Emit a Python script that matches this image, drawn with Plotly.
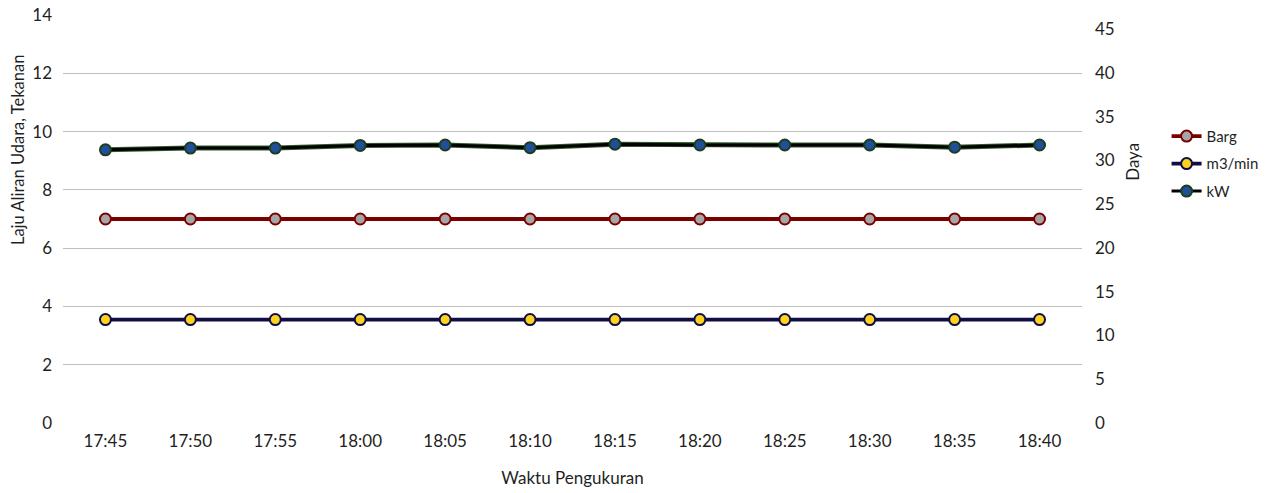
import plotly.graph_objects as go

# Measurement times (5-minute intervals)
waktu = ["17:45", "17:50", "17:55", "18:00", "18:05", "18:10",
         "18:15", "18:20", "18:25", "18:30", "18:35", "18:40"]

# Pressure (Barg), air flow (m3/min), and power (kW)
barg = [7, 7, 7, 7, 7, 7, 7, 7, 7, 7, 7, 7]
m3_min = [3.55, 3.55, 3.55, 3.55, 3.55, 3.55, 3.55, 3.55, 3.55, 3.55, 3.55, 3.55]
kw = [31.2, 31.4, 31.4, 31.7, 31.75, 31.45, 31.85, 31.75, 31.75, 31.75, 31.5, 31.75]

y_ticks = [0, 2, 4, 6, 8, 10, 12, 14]
y2_ticks = [0, 5, 10, 15, 20, 25, 30, 35, 40, 45]

FONT = "Lato"
TXT = "#1f1f1f"

fig = go.Figure()

fig.add_trace(go.Scatter(
    x=waktu, y=barg, name="Barg", mode="lines+markers", legendgroup="a",
    line=dict(color="#7a0000", width=3.8),
    marker=dict(size=11, color="#a6a6a6", line=dict(color="#7a0000", width=2)),
))
fig.add_trace(go.Scatter(
    x=waktu, y=m3_min, name="m3/min", mode="lines+markers", legendgroup="b",
    line=dict(color="#0f0f45", width=3.8),
    marker=dict(size=11, color="#ffd21f", line=dict(color="#0f0f45", width=2)),
))
# green halo under the power line
fig.add_trace(go.Scatter(
    x=waktu, y=kw, yaxis="y2", mode="lines", showlegend=False, hoverinfo="skip",
    line=dict(color="#2f5a2a", width=5),
))
fig.add_trace(go.Scatter(
    x=waktu, y=kw, name="kW", yaxis="y2", mode="lines+markers", legendgroup="c",
    line=dict(color="#000000", width=3),
    marker=dict(size=11, color="#1f4e9a", line=dict(color="#1e3d1e", width=2)),
))

fig.update_layout(
    width=1280, height=493,
    margin=dict(l=63, r=198, t=15, b=70),
    paper_bgcolor="white", plot_bgcolor="white",
    font=dict(family=FONT, size=17, color=TXT),
    xaxis=dict(
        type="category", range=[-0.5, 11.5], automargin=False,
        showgrid=False, showline=False, zeroline=False,
        ticks="", ticklabelstandoff=6,
        title=dict(text="Waktu Pengukuran", font=dict(size=17, color=TXT), standoff=22),
    ),
    yaxis=dict(
        range=[0, 14], tickvals=y_ticks, automargin=False,
        showgrid=True, gridcolor="#bfbfbf", gridwidth=1,
        zeroline=False, showline=False, ticks="", ticklabelstandoff=10,
    ),
    yaxis2=dict(
        overlaying="y", side="right", automargin=False,
        range=[0, 46.6], tickvals=y2_ticks,
        showgrid=False, zeroline=False, showline=False, ticks="", ticklabelstandoff=12,
    ),
    legend=dict(
        x=1.083, y=0.743, xanchor="left", yanchor="top",
        font=dict(size=15, color=TXT), tracegroupgap=5,
        itemwidth=30, bgcolor="rgba(0,0,0,0)",
    ),
    showlegend=True,
    annotations=[
        dict(text="Laju Aliran Udara, Tekanan", textangle=-90,
             xref="paper", yref="paper", x=-0.0447, y=0.67,
             xanchor="center", yanchor="middle", showarrow=False,
             font=dict(size=16.5, color=TXT)),
        dict(text="Daya", textangle=-90,
             xref="paper", yref="paper", x=1.05, y=0.64,
             xanchor="center", yanchor="middle", showarrow=False,
             font=dict(size=17, color=TXT)),
    ],
)

fig.write_html("out.html")
